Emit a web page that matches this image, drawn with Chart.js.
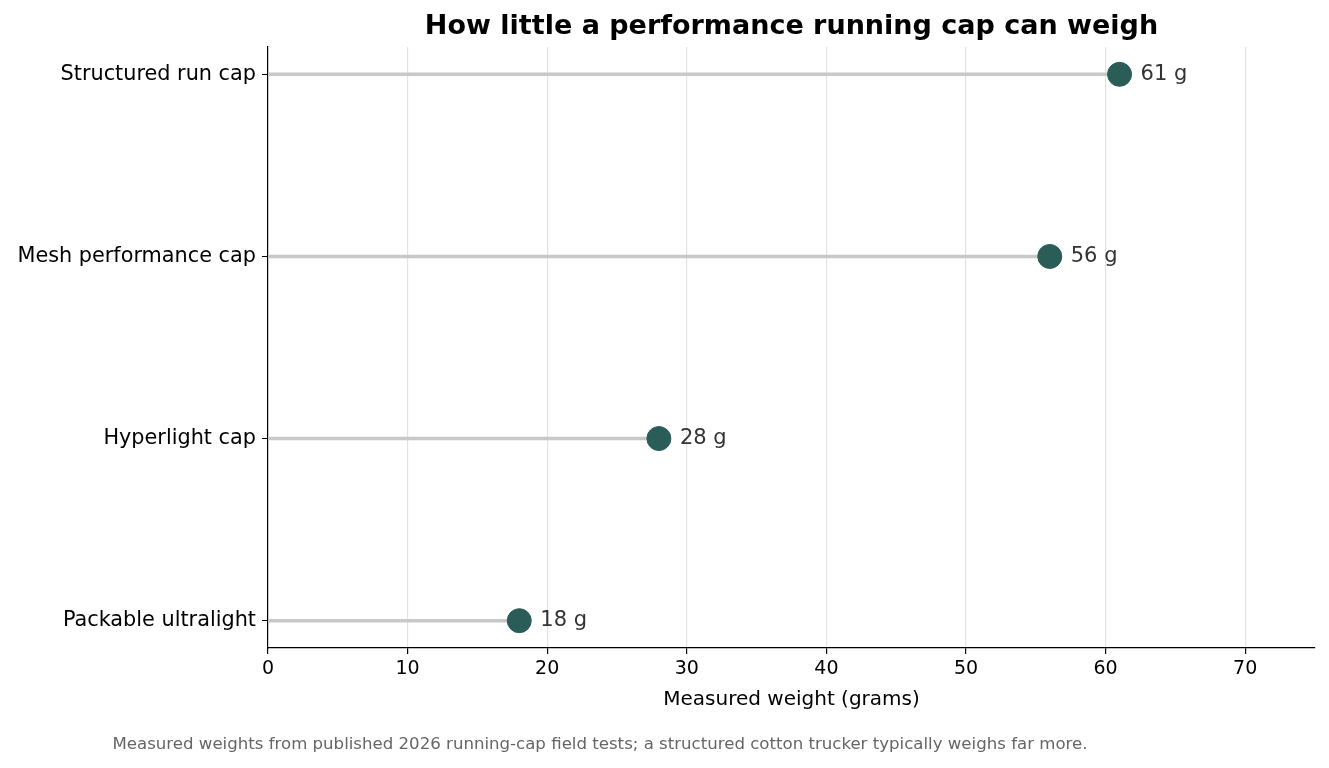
<!DOCTYPE html>
<html><head><meta charset="utf-8">
<script src="https://cdn.jsdelivr.net/npm/chart.js@4"></script>
<style>html,body{margin:0;padding:0;background:#fff}#wrap{width:1329px;height:768px}</style>
</head><body><div id="wrap"><canvas id="c" width="1329" height="768"></canvas></div>
<script>
const categories = ["Packable ultralight","Hyperlight cap","Mesh performance cap","Structured run cap"];
const weights = [18, 28, 56, 61];
const xTicks = [0,10,20,30,40,50,60,70];
const title = "How little a performance running cap can weigh";
const xTitle = "Measured weight (grams)";
const footnote = "Measured weights from published 2026 running-cap field tests; a structured cotton trucker typically weighs far more.";
const F = "DejaVu Sans, sans-serif";

const stems = categories.map((c,i)=>({
  type:'line', data:[{x:0,y:i},{x:weights[i],y:i}], borderColor:'#c8c8c8', borderWidth:3.5,
  pointRadius:0, order:2
}));
const dots = {type:'scatter', data:weights.map((w,i)=>({x:w,y:i})), backgroundColor:'#2a5d58',
  borderColor:'#2a5d58', pointRadius:12, pointHoverRadius:12, order:1};

const extras = {
  id:'extras',
  afterDatasetsDraw(chart){
    const ctx = chart.ctx, xs = chart.scales.x, ys = chart.scales.y, a = chart.chartArea;
    ctx.save();
    ctx.fillStyle='#333'; ctx.font='21px '+F; ctx.textBaseline='middle'; ctx.textAlign='left';
    weights.forEach((w,i)=>ctx.fillText(w+' g', xs.getPixelForValue(w)+21, ys.getPixelForValue(i)));
    ctx.fillStyle='#000'; ctx.font='bold 27px '+F; ctx.textAlign='center';
    ctx.fillText(title, (a.left+a.right)/2, 27);
    ctx.font='20px '+F;
    ctx.fillText(xTitle, (a.left+a.right)/2, 700);
    ctx.fillStyle='#666'; ctx.font='16.6px '+F;
    ctx.fillText(footnote, 600, 745);
    ctx.restore();
  }
};

new Chart(document.getElementById('c'), {
  data:{datasets:[...stems, dots]},
  plugins:[extras],
  options:{
    responsive:false, animation:false, devicePixelRatio:1,
    layout:{padding:{top:47,right:14,left:0,bottom:0}},
    plugins:{legend:{display:false},tooltip:{enabled:false}},
    scales:{
      x:{type:'linear', min:0, max:75, position:'bottom',
        afterBuildTicks:s=>{s.ticks = xTicks.map(v=>({value:v}));},
        afterFit:s=>{s.height = 120;},
        ticks:{color:'#000', font:{family:F,size:19}, padding:4},
        grid:{color:c=>c.tick && c.tick.value===0?'rgba(0,0,0,0)':'#e3e3e3', lineWidth:1.2, tickColor:'#000', tickLength:6},
        border:{color:'#000', width:1.2}
      },
      y:{type:'linear', min:-0.15, max:3.15,
        afterBuildTicks:s=>{s.ticks = categories.map((c,i)=>({value:i}));},
        afterFit:s=>{s.width = 268;},
        ticks:{color:'#000', font:{family:F,size:20.8}, padding:6, callback:v=>categories[v]},
        grid:{drawOnChartArea:false, tickColor:'#000', tickLength:6},
        border:{color:'#000', width:1.2}
      }
    }
  }
});
</script></body></html>
